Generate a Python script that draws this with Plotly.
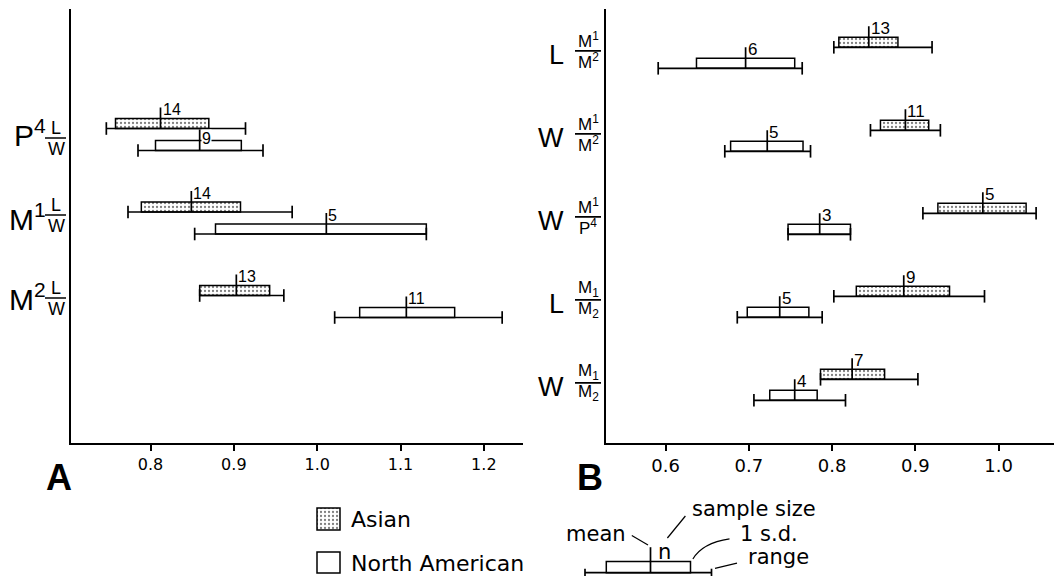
import plotly.graph_objects as go

# page offset of the plot div (browser body margin) is compensated below
OFF = 8
W, H = 1062 - OFF, 576 - OFF

# ---------------- data: panel A (L/W ratios) ----------------
A_big = ["P<sup>4</sup>", "M<sup>1</sup>", "M<sup>2</sup>"]
A_num = ["L", "L", "L"]
A_den = ["W", "W", "W"]
A_asian_n = [14, 14, 13]
A_asian_mean = [0.812, 0.849, 0.903]
A_asian_sd_lo = [0.758, 0.789, 0.859]
A_asian_sd_hi = [0.870, 0.908, 0.943]
A_asian_min = [0.747, 0.773, 0.859]
A_asian_max = [0.914, 0.970, 0.960]
A_na_n = [9, 5, 11]
A_na_mean = [0.859, 1.011, 1.107]
A_na_sd_lo = [0.806, 0.878, 1.051]
A_na_sd_hi = [0.909, 1.131, 1.165]
A_na_min = [0.785, 0.853, 1.021]
A_na_max = [0.935, 1.131, 1.222]
A_ticks = [0.8, 0.9, 1.0, 1.1, 1.2]
A_ticktext = ["0.8", "0.9", "1.0", "1.1", "1.2"]

# ---------------- data: panel B (tooth-to-tooth ratios) ----------------
B_big = ["L", "W", "W", "L", "W"]
B_num = ["M<sup>1</sup>", "M<sup>1</sup>", "M<sup>1</sup>", "M<sub>1</sub>", "M<sub>1</sub>"]
B_den = ["M<sup>2</sup>", "M<sup>2</sup>", "P<sup>4</sup>", "M<sub>2</sub>", "M<sub>2</sub>"]
B_asian_n = [13, 11, 5, 9, 7]
B_asian_mean = [0.844, 0.888, 0.981, 0.886, 0.824]
B_asian_sd_lo = [0.808, 0.858, 0.927, 0.829, 0.786]
B_asian_sd_hi = [0.879, 0.916, 1.033, 0.941, 0.863]
B_asian_min = [0.802, 0.846, 0.909, 0.802, 0.786]
B_asian_max = [0.920, 0.930, 1.045, 0.983, 0.903]
B_na_n = [6, 5, 3, 5, 4]
B_na_mean = [0.696, 0.722, 0.785, 0.737, 0.755]
B_na_sd_lo = [0.637, 0.678, 0.747, 0.698, 0.725]
B_na_sd_hi = [0.755, 0.765, 0.822, 0.772, 0.782]
B_na_min = [0.591, 0.671, 0.747, 0.686, 0.706]
B_na_max = [0.764, 0.774, 0.822, 0.788, 0.816]
B_ticks = [0.6, 0.7, 0.8, 0.9, 1.0]
B_ticktext = ["0.6", "0.7", "0.8", "0.9", "1.0"]

LEGEND_LABELS = ["Asian", "North American"]

# ---------------- layout constants (pixel positions in the 1062x576 window) ----------------
def px(x):
    return (x - OFF) / W

def py(y):
    return 1 - (y - OFF) / H

TOP, BOTTOM = 9.0, 442.7
A_LEFT, A_RIGHT = 71.0, 523.0
B_LEFT, B_RIGHT = 606.0, 1058.0
A_PPU, B_PPU = 83.5, 83.0           # pixels per group row
A_FIRST, B_FIRST = 128.5, 47.3      # pixel y of first Asian range line
A_NA_OFF, B_NA_OFF = 22.0, 21.0     # px between Asian and N. American rows
A_XRANGE = [0.7046, 1.2470]
B_XRANGE = [0.5283, 1.0713]
BOX_H = 10.0
MEAN_H = 21.0
LABEL_DY = 19.0
A_LABEL_BAR_DY = [9.5, 3.0, 2.5]
A_LABEL_BIG_DY = [4.5, 5.0, 1.5]
B_LABEL_BAR_DY = 3.5

BLACK = "black"
DOTS = dict(shape=".", fgcolor=BLACK, bgcolor="white", size=4, solidity=0.25)

fig = go.Figure()
annotations = []
shapes = []


def add_panel(xr, yr, ppu, series, nfont):
    u = 1.0 / ppu
    for (ys, mean, lo, hi, mn, mx, n, dotted, other) in series:
        fig.add_trace(go.Bar(
            orientation="h", xaxis=xr, yaxis=yr,
            y=[r - BOX_H * u / 2 for r in ys],
            x=[h - l for h, l in zip(hi, lo)], base=lo, width=BOX_H * u,
            marker=dict(color="white", line=dict(color=BLACK, width=1.5),
                        pattern=DOTS if dotted else dict(shape="")),
            showlegend=False, cliponaxis=False, hoverinfo="skip"))
        lx, ly, mxs, mys = [], [], [], []
        for r, a, b, m in zip(ys, mn, mx, mean):
            lx += [a, b, None]
            ly += [r, r, None]
            mxs += [m, m, None]
            mys += [r, r - MEAN_H * u, None]
        fig.add_trace(go.Scatter(x=lx, y=ly, xaxis=xr, yaxis=yr, mode="lines",
                                 line=dict(color=BLACK, width=1.7),
                                 showlegend=False, cliponaxis=False, hoverinfo="skip"))
        fig.add_trace(go.Scatter(x=mxs, y=mys, xaxis=xr, yaxis=yr, mode="lines",
                                 line=dict(color=BLACK, width=1.7),
                                 showlegend=False, cliponaxis=False, hoverinfo="skip"))
        fig.add_trace(go.Scatter(x=list(mn) + list(mx), y=list(ys) + list(ys),
                                 xaxis=xr, yaxis=yr, mode="markers",
                                 marker=dict(symbol="line-ns", size=9,
                                             line=dict(color=BLACK, width=1.7)),
                                 showlegend=False, cliponaxis=False, hoverinfo="skip"))
        for i, (r, m, cnt) in enumerate(zip(ys, mean, n)):
            inline = False
            if other is not None:
                omin, omax = other
                inline = omin[i] <= m + 0.02 and omax[i] >= m
            annotations.append(dict(
                x=m, y=r - (12.5 if inline else LABEL_DY) * u,
                xref=xr, yref=yr, text=str(cnt), showarrow=False,
                xanchor="left", yanchor="middle", xshift=1,
                bgcolor="white" if inline else None,
                borderpad=0,
                font=dict(family="Liberation Sans", size=nfont, color=BLACK)))


# ---- panel A ----
A_rows = list(range(len(A_asian_n)))
A_asian_y = A_rows
A_na_y = [k + A_NA_OFF / A_PPU for k in A_rows]
add_panel("x", "y", A_PPU, [
    (A_asian_y, A_asian_mean, A_asian_sd_lo, A_asian_sd_hi, A_asian_min, A_asian_max, A_asian_n, True, None),
    (A_na_y, A_na_mean, A_na_sd_lo, A_na_sd_hi, A_na_min, A_na_max, A_na_n, False, (A_asian_min, A_asian_max)),
], 16)

# ---- panel B ----
B_rows = list(range(len(B_asian_n)))
B_asian_y = B_rows
B_na_y = [k + B_NA_OFF / B_PPU for k in B_rows]
add_panel("x2", "y2", B_PPU, [
    (B_asian_y, B_asian_mean, B_asian_sd_lo, B_asian_sd_hi, B_asian_min, B_asian_max, B_asian_n, True, None),
    (B_na_y, B_na_mean, B_na_sd_lo, B_na_sd_hi, B_na_min, B_na_max, B_na_n, False, (B_asian_min, B_asian_max)),
], 17)

# ---- row labels panel A ----
for k in A_rows:
    bar = k + A_LABEL_BAR_DY[k] / A_PPU
    shapes.append(dict(type="line", xref="paper", yref="y", x0=px(45), x1=px(66),
                       y0=bar, y1=bar, line=dict(color=BLACK, width=1.7)))
    annotations.append(dict(x=px(56), y=bar, xref="paper", yref="y", text=A_num[k],
                            showarrow=False, yshift=10, xanchor="center", yanchor="middle",
                            font=dict(family="Liberation Sans", size=18, color=BLACK)))
    annotations.append(dict(x=px(56), y=bar, xref="paper", yref="y", text=A_den[k],
                            showarrow=False, yshift=-11, xanchor="center", yanchor="middle",
                            font=dict(family="Liberation Sans", size=18, color=BLACK)))
    annotations.append(dict(x=px(47.5), y=k + A_LABEL_BIG_DY[k] / A_PPU, xref="paper", yref="y",
                            text=A_big[k], showarrow=False, xanchor="right", yanchor="middle",
                            font=dict(family="Liberation Sans", size=30, color=BLACK)))

# ---- row labels panel B ----
for k in B_rows:
    bar = k + B_LABEL_BAR_DY / B_PPU
    shapes.append(dict(type="line", xref="paper", yref="y2", x0=px(575), x1=px(601),
                       y0=bar, y1=bar, line=dict(color=BLACK, width=1.7)))
    annotations.append(dict(x=px(588), y=bar, xref="paper", yref="y2", text=B_num[k],
                            showarrow=False, yshift=11, xanchor="center", yanchor="middle",
                            font=dict(family="Liberation Sans", size=17, color=BLACK)))
    annotations.append(dict(x=px(588), y=bar, xref="paper", yref="y2", text=B_den[k],
                            showarrow=False, yshift=-10, xanchor="center", yanchor="middle",
                            font=dict(family="Liberation Sans", size=17, color=BLACK)))
    annotations.append(dict(x=px(566), y=bar, xref="paper", yref="y2", text=B_big[k],
                            showarrow=False, yshift=-4, xanchor="right", yanchor="middle",
                            font=dict(family="Liberation Sans", size=27, color=BLACK)))

# ---- panel letters ----
for letter, xc in (("A", 58.5), ("B", 589.5)):
    annotations.append(dict(x=px(xc), y=py(477.5), xref="paper", yref="paper",
                            text="<b>%s</b>" % letter, showarrow=False,
                            xanchor="center", yanchor="middle",
                            font=dict(family="Liberation Sans", size=36, color=BLACK)))

# ---- legend (swatches in a small axis) ----
fig.add_trace(go.Bar(x=[0], y=[22], base=[508], width=1, xaxis="x3", yaxis="y3",
                     marker=dict(color="white", line=dict(color=BLACK, width=1.5), pattern=DOTS),
                     showlegend=False, cliponaxis=False, hoverinfo="skip"))
fig.add_trace(go.Bar(x=[0], y=[21], base=[552], width=1, xaxis="x3", yaxis="y3",
                     marker=dict(color="white", line=dict(color=BLACK, width=1.5)),
                     showlegend=False, cliponaxis=False, hoverinfo="skip"))
for txt, yc in zip(LEGEND_LABELS, (519, 563)):
    annotations.append(dict(x=px(349), y=py(yc), xref="paper", yref="paper", text=txt,
                            showarrow=False, xanchor="left", yanchor="middle",
                            font=dict(family="DejaVu Sans", size=22, color=BLACK)))

# ---- key diagram ----
KEY_FONT = dict(family="DejaVu Sans", size=21, color=BLACK)
def kline(x0, y0, x1, y1, w=1.5):
    shapes.append(dict(type="line", xref="paper", yref="paper", x0=px(x0), y0=py(y0),
                       x1=px(x1), y1=py(y1), line=dict(color=BLACK, width=w)))

shapes.append(dict(type="rect", xref="paper", yref="paper", x0=px(606.3), x1=px(690.5),
                   y0=py(572.7), y1=py(561.5), line=dict(color=BLACK, width=1.5),
                   fillcolor="white"))
kline(585, 572.7, 711.5, 572.7, 1.7)
kline(585, 568.7, 585, 576, 1.7)
kline(711.5, 568.7, 711.5, 576, 1.7)
kline(650.5, 547.2, 650.5, 572.7, 1.7)
kline(631.8, 535.4, 648, 544.9, 1.2)
kline(685.4, 516, 667.4, 538, 1.2)
kline(737, 563.2, 715, 568.3, 1.2)
shapes.append(dict(type="path", xref="paper", yref="paper",
                   path="M %f %f Q %f %f %f %f" % (px(729.5), py(538.8), px(702), py(543),
                                                  px(692.9), py(559)),
                   line=dict(color=BLACK, width=1.2)))
for txt, x, anchor, yc in (("mean", 628.4, "right", 533.7), ("n", 664.5, "center", 551.7),
                           ("sample size", 689.5, "left", 508.9),
                           ("1 s.d.", 737.7, "left", 533.7), ("range", 746, "left", 557.4)):
    annotations.append(dict(x=px(x), y=py(yc), xref="paper", yref="paper", text=txt,
                            showarrow=False, xanchor=anchor, yanchor="middle", font=KEY_FONT))

# ---- axes ----
def xaxis(dom, rng, tv, tt, size):
    return dict(domain=dom, range=rng, tickvals=tv, ticktext=tt, ticks="outside",
                ticklen=6, tickwidth=1.5, tickcolor=BLACK, showline=True, linewidth=2,
                linecolor=BLACK, showgrid=False, zeroline=False,
                tickfont=dict(family="DejaVu Sans", size=size, color=BLACK))

def yaxis(rng):
    return dict(domain=[py(BOTTOM), py(TOP)], range=rng, showline=True, linewidth=2,
                linecolor=BLACK, showgrid=False, zeroline=False, showticklabels=False,
                ticks="")

A_YRANGE = [(BOTTOM - A_FIRST) / A_PPU, (TOP - A_FIRST) / A_PPU]
B_YRANGE = [(BOTTOM - B_FIRST) / B_PPU, (TOP - B_FIRST) / B_PPU]

fig.update_layout(
    width=W, height=H, margin=dict(l=0, r=0, t=0, b=0),
    paper_bgcolor="white", plot_bgcolor="white", barmode="overlay", showlegend=False,
    xaxis=dict(xaxis([px(A_LEFT), px(A_RIGHT)], A_XRANGE, A_ticks, A_ticktext, 16), anchor="y"),
    yaxis=dict(yaxis(A_YRANGE), anchor="x"),
    xaxis2=dict(xaxis([px(B_LEFT), px(B_RIGHT)], B_XRANGE, B_ticks, B_ticktext, 18), anchor="y2"),
    yaxis2=dict(yaxis(B_YRANGE), anchor="x2"),
    xaxis3=dict(domain=[px(315), px(342)], range=[-27 / 46, 27 / 46], visible=False, anchor="y3"),
    yaxis3=dict(domain=[py(575), py(506)], range=[575, 506], visible=False, anchor="x3"),
    annotations=annotations, shapes=shapes,
)

fig.write_html("out.html")
